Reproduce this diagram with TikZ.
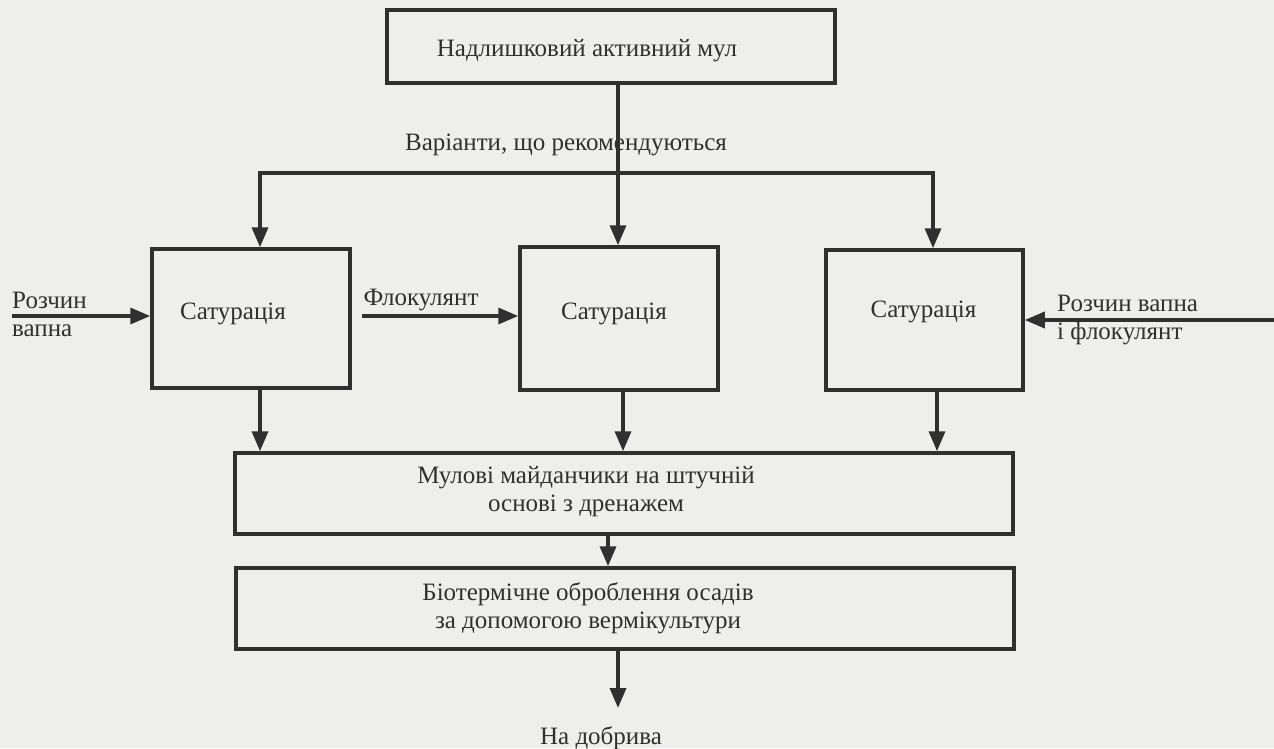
\documentclass[tikz,border=0pt]{standalone}
\usepackage{fontspec}
\setmainfont{Liberation Serif}
\usetikzlibrary{arrows.meta,calc}
\definecolor{paper}{RGB}{238,238,235}
\definecolor{ink}{RGB}{48,48,48}
\begin{document}
\begin{tikzpicture}[x=1pt,y=-1pt,
  box/.style={draw=ink, line width=3.5pt, rectangle, inner sep=0pt},
  lbl/.style={font=\fontsize{25}{28}\selectfont, text=ink, inner sep=0pt, align=center},
  arr/.style={draw=ink, line width=3.5pt, line join=miter, -{Triangle[length=20pt,width=16pt]}},
  arrb/.style={draw=ink, line width=3.5pt, line join=miter, {Triangle[length=20pt,width=16pt]}-{Triangle[length=20pt,width=16pt]}}]
\fill[paper] (0,0) rectangle (1274,748);
\useasboundingbox (0,0) rectangle (1274,748);

% boxes
\node[box, minimum width=448pt, minimum height=73pt] (top) at (611,46.5) {};
\node[box, minimum width=198pt, minimum height=139pt] (L) at (251,318.5) {};
\node[box, minimum width=198pt, minimum height=143pt] (M) at (619,318.5) {};
\node[box, minimum width=197pt, minimum height=140pt] (R) at (924.5,320) {};
\node[box, minimum width=778pt, minimum height=81pt] (B1) at (624,493.5) {};
\node[box, minimum width=778pt, minimum height=81pt] (B2) at (625,608.5) {};

% texts in boxes
\node[lbl] (topt) at ($(top)+(-24,4)$) {Надлишковий активний мул};
\node[lbl] (Lt) at ($(L)+(-18,-5)$) {Сатурація};
\node[lbl] (Mt) at ($(M)+(-5,-5)$) {Сатурація};
\node[lbl] (Rt) at ($(R)+(-1,-8)$) {Сатурація};
\node[lbl] (B1t) at ($(B1)+(-38,-2)$) {Мулові майданчики на штучній\\основі з дренажем};
\node[lbl] (B2t) at ($(B2)+(-37,0)$) {Біотермічне оброблення осадів\\за допомогою вермікультури};

% free labels
\node[lbl] (var) at (566,145) {Варіанти, що рекомендуються};
\node[lbl, align=left, anchor=west] (rv) at (12,314) {Розчин\\вапна};
\node[lbl] (fl) at (421,300) {Флокулянт};
\node[lbl, align=left, anchor=west] (rvf) at (1057,320) {Розчин вапна\\і флокулянт};
\node[lbl] (nd) at (601,738) {На добрива};

% coordinates
\coordinate (jm) at (618,173);
\coordinate (jl) at (260,173);
\coordinate (jr) at (933,173);
\coordinate (dm) at (623,420);
\coordinate (dr) at (937,420);
\coordinate (d12) at (608,550);
\coordinate (out) at (618,708);
\coordinate (in1) at (12,316);
\coordinate (in2) at (362,316);
\coordinate (in3) at (1274,320);

% connectors
\draw[arr] (top.south -| jm) -- (jm |- M.north);
\draw[arrb] (jl |- L.north) -- (jl) -- (jr) -- (jr |- R.north);
\draw[arr] (jl |- L.south) -- (jl |- B1.north);
\draw[arr] (dm |- M.south) -- (dm |- B1.north);
\draw[arr] (dr |- R.south) -- (dr |- B1.north);
\draw[arr] (d12 |- B1.south) -- (d12 |- B2.north);
\draw[arr] (out |- B2.south) -- (out);
\draw[arr] (in1) -- (in1 -| L.west);
\draw[arr] (in2) -- (in2 -| M.west);
\draw[arr] (in3) -- (in3 -| R.east);
\end{tikzpicture}
\end{document}
